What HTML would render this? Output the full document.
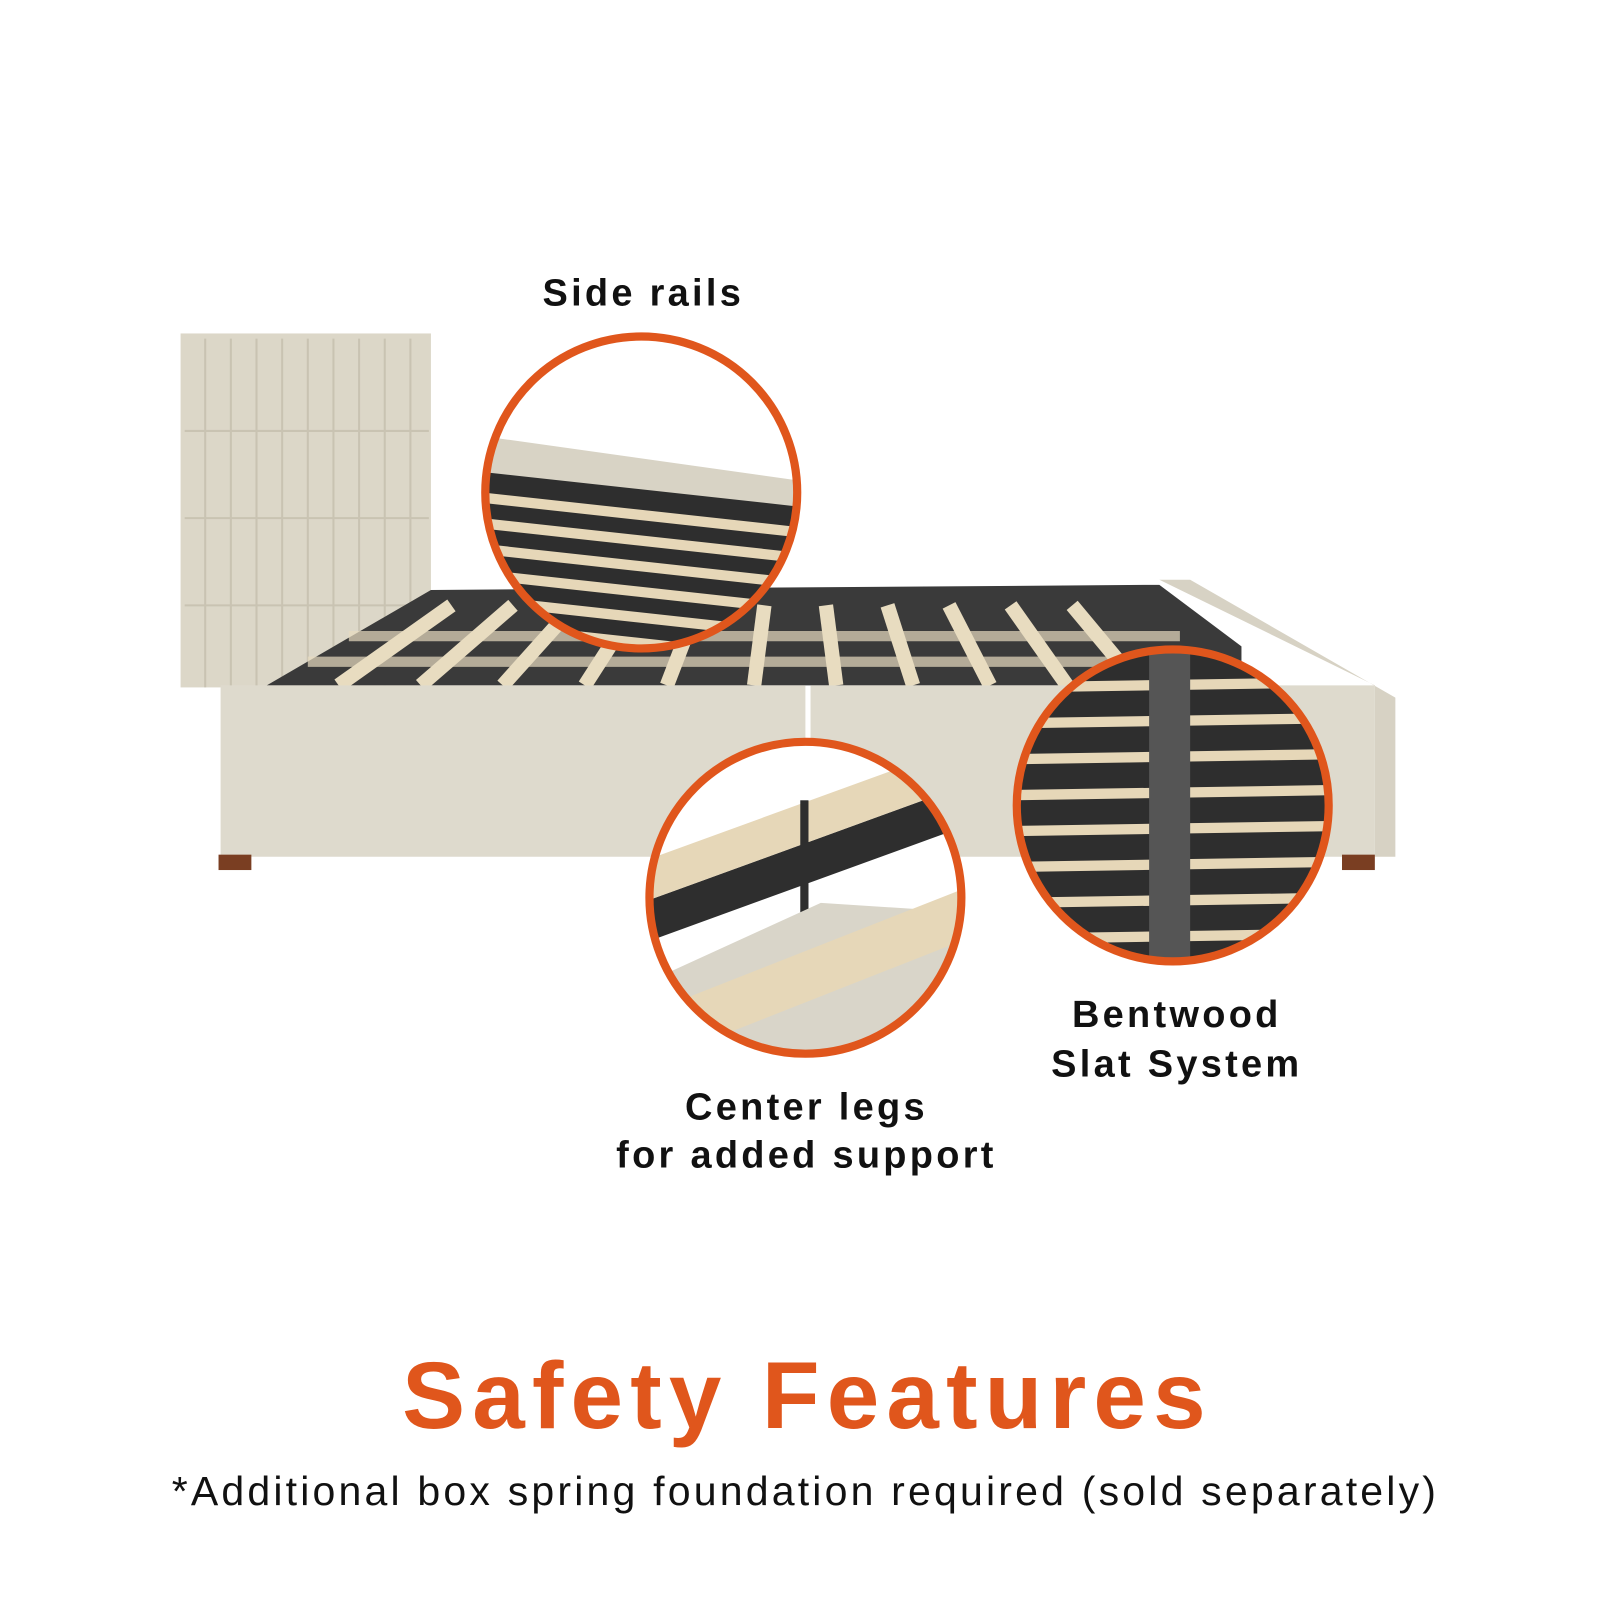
<!DOCTYPE html>
<html><head><meta charset="utf-8"><style>
body{margin:0;background:#fff;width:1600px;height:1600px;overflow:hidden}
svg{display:block}
text{font-family:"Liberation Sans",sans-serif}
</style></head><body>
<svg width="1600" height="1600" viewBox="0 0 1600 1600">
<defs>
<clipPath id="c1"><circle cx="625" cy="480" r="152"/></clipPath>
<clipPath id="c2"><circle cx="785" cy="875" r="152"/></clipPath>
<clipPath id="c3"><circle cx="1143" cy="785" r="152"/></clipPath>
</defs>
<g transform="scale(1.026)">
<rect x="176" y="325" width="244" height="345" fill="#dcd7c8"/>
<g stroke="#c9c3b2" stroke-width="2">
<line x1="200" y1="330" x2="200" y2="670"/><line x1="225" y1="330" x2="225" y2="670"/><line x1="250" y1="330" x2="250" y2="670"/><line x1="275" y1="330" x2="275" y2="670"/><line x1="300" y1="330" x2="300" y2="670"/><line x1="325" y1="330" x2="325" y2="670"/><line x1="350" y1="330" x2="350" y2="670"/><line x1="375" y1="330" x2="375" y2="670"/><line x1="400" y1="330" x2="400" y2="670"/>
<line x1="180" y1="420" x2="418" y2="420"/><line x1="180" y1="505" x2="418" y2="505"/><line x1="180" y1="590" x2="418" y2="590"/>
</g>
<polygon points="260,668 420,575 1130,570 1210,630 1210,668" fill="#3a3a3a"/>
<g stroke="#e8dcc0" stroke-width="14">
<line x1="330" y1="668" x2="440" y2="590"/><line x1="410" y1="668" x2="500" y2="590"/><line x1="490" y1="668" x2="560" y2="590"/><line x1="570" y1="668" x2="620" y2="590"/><line x1="650" y1="668" x2="680" y2="590"/><line x1="735" y1="668" x2="745" y2="590"/><line x1="815" y1="668" x2="805" y2="590"/><line x1="890" y1="668" x2="865" y2="590"/><line x1="965" y1="668" x2="925" y2="590"/><line x1="1040" y1="668" x2="985" y2="590"/><line x1="1110" y1="668" x2="1045" y2="590"/>
</g>
<g stroke="#e8dcc0" stroke-width="10" opacity="0.7">
<line x1="300" y1="645" x2="1180" y2="645"/><line x1="340" y1="620" x2="1150" y2="620"/>
</g>
<polygon points="215,668 785,668 785,835 215,835" fill="#dedacd"/>
<polygon points="790,668 1340,668 1340,835 790,835" fill="#dedacd"/>
<polygon points="1130,565 1160,565 1360,680 1360,835 1340,835 1340,668" fill="#d7d2c4"/>
<rect x="213" y="833" width="32" height="15" fill="#7a3e22"/>
<rect x="1308" y="833" width="32" height="15" fill="#7a3e22"/>
<g clip-path="url(#c1)">
<rect x="460" y="320" width="330" height="330" fill="#fff"/>
<polygon points="470,425 790,470 790,520 470,460" fill="#d8d3c5"/>
<polygon points="470,460 790,495 790,650 470,650" fill="#2e2e2e"/>
<g stroke="#e6d7b8" stroke-width="10">
<line x1="470" y1="485" x2="790" y2="520"/><line x1="470" y1="510" x2="790" y2="545"/><line x1="470" y1="535" x2="790" y2="570"/><line x1="470" y1="560" x2="790" y2="595"/><line x1="470" y1="585" x2="790" y2="620"/><line x1="470" y1="610" x2="790" y2="645"/>
</g></g>
<circle cx="625" cy="480" r="152" fill="none" stroke="#e0561c" stroke-width="8"/>
<g clip-path="url(#c2)">
<rect x="625" y="715" width="330" height="330" fill="#fff"/>
<polygon points="625,880 955,760 955,800 625,920" fill="#2e2e2e"/>
<polygon points="625,840 955,720 955,760 625,880" fill="#e6d7b8"/>
<rect x="780" y="780" width="8" height="200" fill="#2e2e2e"/>
<polygon points="625,960 800,880 955,890 955,1040 625,1040" fill="#d9d5c9"/>
<polygon points="625,990 955,860 955,910 625,1040" fill="#e6d7b8"/>
</g>
<circle cx="785" cy="875" r="152" fill="none" stroke="#e0561c" stroke-width="8"/>
<g clip-path="url(#c3)">
<rect x="985" y="630" width="320" height="320" fill="#2e2e2e"/>
<g stroke="#e6d7b8" stroke-width="10">
<line x1="985" y1="670" x2="1305" y2="665"/><line x1="985" y1="705" x2="1305" y2="700"/><line x1="985" y1="740" x2="1305" y2="735"/><line x1="985" y1="775" x2="1305" y2="770"/><line x1="985" y1="810" x2="1305" y2="805"/><line x1="985" y1="845" x2="1305" y2="840"/><line x1="985" y1="880" x2="1305" y2="875"/><line x1="985" y1="915" x2="1305" y2="910"/>
</g>
<rect x="1120" y="630" width="40" height="320" fill="#555"/>
</g>
<circle cx="1143" cy="785" r="152" fill="none" stroke="#e0561c" stroke-width="8"/>
<g font-weight="bold" font-size="37" fill="#111" text-anchor="middle" letter-spacing="3.2">
<text x="627" y="298">Side rails</text>
<text x="1147" y="1001">Bentwood</text>
<text x="1147" y="1049">Slat System</text>
<text x="786" y="1091">Center legs</text>
<text x="786" y="1138">for added support</text>
</g>
<text x="787" y="1392" text-anchor="middle" font-weight="bold" font-size="92" fill="#e0561c" letter-spacing="7">Safety Features</text>
<text x="785" y="1467" text-anchor="middle" font-size="40" fill="#111" letter-spacing="3.1">*Additional box spring foundation required (sold separately)</text>
</g>
</svg>
</body></html>
